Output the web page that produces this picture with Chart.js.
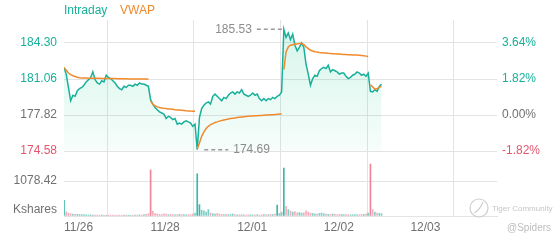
<!DOCTYPE html>
<html>
<head>
<meta charset="utf-8">
<script src="https://cdn.jsdelivr.net/npm/chart.js@4.4.1/dist/chart.umd.min.js"></script>
<style>
html, body { margin: 0; padding: 0; background: #fff; }
#wrap { width: 560px; height: 240px; }
</style>
</head>
<body>
<div id="wrap"><canvas id="c" width="560" height="240"></canvas></div>
<script>
// axis labels and where each trading day starts (minutes from first open, 10 min samples)
var dayLabels = ['11/26', '11/28', '12/01', '12/02', '12/03'];
var axisTicks = [0, 390, 780, 1170, 1560, 1950];
var dayStart = [0, 390, 600, 990, 1380];
var step = 10;

var prevClose = 177.82;
var priceTicks = [174.58, 177.82, 181.06, 184.30];
var volTick = 1078.42;

// intraday price, one list per day
var price1 = [182.1, 181.5, 180.3, 179.1, 179.6, 179.5, 180.0, 180.2, 180.3, 180.5, 180.8, 181.0, 181.2, 181.7, 181.0, 180.7, 180.6, 180.9, 180.8, 181.4,
  181.2, 181.1, 180.9, 180.7, 180.4, 180.2, 180.1, 180.4, 180.3, 180.5, 180.5, 180.4, 180.6, 180.5, 180.7, 180.6, 180.6, 180.5, 180.4];
var price2 = [179.2, 178.8, 178.5, 178.3, 178.1, 178.0, 177.9, 177.5, 177.7, 177.6, 177.4, 177.5, 177.0, 177.1, 177.0, 177.2, 177.3, 177.2, 177.1, 176.8, 177.0];
var price3 = [174.69, 177.6, 178.4, 178.7, 178.9, 179.0, 178.8, 179.5, 179.7, 179.5, 179.3, 179.1, 179.4, 179.3, 179.6, 179.8, 179.9, 179.7, 179.9, 179.8,
  180.1, 179.7, 179.6, 179.5, 179.6, 179.8, 179.6, 179.7, 179.3, 179.1, 179.3, 179.1, 179.3, 179.2, 179.4, 179.3, 179.5, 179.6, 179.9];
var price4 = [185.53, 184.8, 185.2, 184.6, 185.1, 184.1, 183.6, 183.9, 184.3, 183.9, 182.4, 181.5, 180.5, 181.1, 181.4, 181.3, 181.8, 182.0, 182.1, 182.0,
  182.3, 181.7, 181.9, 181.8, 181.7, 181.5, 181.6, 181.6, 181.3, 181.1, 181.2, 181.4, 181.5, 181.7, 181.6, 181.4, 181.5, 181.3, 181.6];
var price5 = [179.95, 179.9, 180.1, 179.95, 180.4, 180.6];

// VWAP per day
var vwap1 = [182.1, 181.85, 181.6, 181.45, 181.35, 181.28, 181.22, 181.18, 181.16, 181.15, 181.14, 181.13, 181.13, 181.13, 181.12, 181.12, 181.12, 181.11, 181.11, 181.11,
  181.11, 181.1, 181.1, 181.1, 181.09, 181.09, 181.08, 181.08, 181.08, 181.07, 181.07, 181.07, 181.06, 181.06, 181.06, 181.05, 181.05, 181.05, 181.04];
var vwap2 = [179.1, 178.8, 178.65, 178.55, 178.5, 178.45, 178.42, 178.4, 178.37, 178.35, 178.33, 178.3, 178.28, 178.26, 178.24, 178.22, 178.2, 178.19, 178.17, 178.16, 178.15];
var vwap3 = [174.75, 175.3, 175.9, 176.3, 176.6, 176.8, 176.95, 177.05, 177.15, 177.2, 177.27, 177.32, 177.37, 177.42, 177.46, 177.5, 177.53, 177.56, 177.59, 177.62,
  177.64, 177.66, 177.68, 177.7, 177.72, 177.73, 177.75, 177.76, 177.77, 177.78, 177.8, 177.81, 177.82, 177.84, 177.85, 177.87, 177.88, 177.9, 177.92];
var vwap4 = [181.9, 183.5, 183.95, 184.1, 184.15, 184.2, 184.22, 184.25, 184.25, 184.15, 183.95, 183.8, 183.65, 183.58, 183.52, 183.48, 183.45, 183.43, 183.41, 183.39,
  183.37, 183.36, 183.34, 183.33, 183.31, 183.3, 183.28, 183.27, 183.26, 183.25, 183.24, 183.23, 183.22, 183.21, 183.2, 183.18, 183.16, 183.12, 183.08];
var vwap5 = [180.55, 180.35, 180.15, 180.2, 180.3, 180.4];

// volume (thousand shares)
var vol1 = [480, 130, 90, 70, 60, 55, 50, 45, 40, 40, 35, 30, 35, 30, 25, 30, 25, 30, 25, 20, 25, 30, 25, 20, 25, 30, 20, 25, 30, 25, 20, 30, 25, 30, 35, 30, 40, 50, 70];
var vol2 = [1420, 150, 80, 60, 50, 45, 70, 60, 40, 50, 45, 35, 40, 50, 45, 40, 35, 40, 45, 60, 90];
var vol3 = [1300, 350, 180, 160, 120, 200, 90, 70, 60, 80, 60, 50, 45, 50, 40, 45, 60, 40, 35, 40, 35, 40, 30, 35, 40, 30, 35, 40, 30, 35, 40, 45, 35, 50, 45, 60, 340, 80, 120];
var vol4 = [1480, 300, 200, 150, 120, 140, 100, 110, 90, 100, 160, 120, 90, 80, 70, 60, 80, 90, 70, 60, 50, 45, 60, 50, 40, 45, 50, 40, 45, 40, 35, 40, 45, 35, 40, 45, 50, 60, 90];
var vol5 = [1600, 200, 120, 90, 80, 70];
var openUp = [true, false, true, true, false];

var teal = '#17b09a';
var orange = '#f08a2c';
var red = '#e4566f';
var grey = '#707070';
var gridCol = '#e3e3e3';
var font = '"Liberation Sans", Arial, sans-serif';

var prices = [price1, price2, price3, price4, price5];
var vwaps = [vwap1, vwap2, vwap3, vwap4, vwap5];
var vols = [vol1, vol2, vol3, vol4, vol5];

// gaps = true leaves a break between days (used for VWAP)
function series(days, gaps) {
  var out = [];
  days.forEach(function(a, d) {
    a.forEach(function(v, k) { out.push({x: dayStart[d] + k * step, y: v}); });
    if (gaps && d < days.length - 1) out.push({x: dayStart[d] + a.length * step - 5, y: null});
  });
  return out;
}

var volData = [], volColors = [];
vols.forEach(function(a, d) {
  a.forEach(function(v, k) {
    volData.push({x: dayStart[d] + k * step, y: v});
    var up = k == 0 ? openUp[d] : prices[d][k] >= prices[d][k - 1];
    var a1 = v > 300 ? 0.9 : 0.6;
    volColors.push(up ? 'rgba(38,176,160,' + a1 + ')' : 'rgba(236,120,142,' + a1 + ')');
  });
});

// highest and lowest sample, for the markers
var hi = null, lo = null;
prices.forEach(function(a, d) {
  a.forEach(function(v, k) {
    if (!hi || v > hi.y) hi = {x: dayStart[d] + k * step, y: v};
    if (!lo || v < lo.y) lo = {x: dayStart[d] + k * step, y: v};
  });
});

function tickColor(v) {
  if (Math.abs(v - prevClose) < 0.001) return grey;
  return v > prevClose ? teal : red;
}

var extras = {
  id: 'extras',
  afterDraw: function(chart) {
    var ctx = chart.ctx, sx = chart.scales.x, sy = chart.scales.y, sv = chart.scales.yv;
    ctx.save();
    ctx.font = '12px ' + font;
    ctx.textBaseline = 'middle';
    ctx.textAlign = 'left';
    ctx.fillStyle = teal;
    ctx.fillText('Intraday', 64, 11);
    ctx.fillStyle = orange;
    ctx.fillText('VWAP', 120, 11);

    // unit label of the volume panel
    ctx.textAlign = 'right';
    ctx.fillStyle = grey;
    ctx.fillText('Kshares', sv.left + sv.width - 7, sv.bottom - 6);

    ctx.strokeStyle = '#9a9a9a';
    ctx.fillStyle = '#8c8c8c';
    ctx.lineWidth = 1.5;
    ctx.setLineDash([4, 3]);
    var hx = sx.getPixelForValue(hi.x), hy = sy.getPixelForValue(hi.y);
    ctx.beginPath(); ctx.moveTo(hx - 27, hy); ctx.lineTo(hx, hy); ctx.stroke();
    var lx = sx.getPixelForValue(lo.x), ly = sy.getPixelForValue(lo.y);
    ctx.beginPath(); ctx.moveTo(lx + 7, ly); ctx.lineTo(lx + 31, ly); ctx.stroke();
    ctx.setLineDash([]);
    ctx.textAlign = 'right';
    ctx.fillText(hi.y.toFixed(2), hx - 32, hy);
    ctx.textAlign = 'left';
    ctx.fillText(lo.y.toFixed(2), lx + 36, ly);

    // watermark
    ctx.strokeStyle = '#cfcfcf';
    ctx.lineWidth = 1.2;
    ctx.beginPath(); ctx.arc(479, 208, 9, 0, Math.PI * 2); ctx.stroke();
    ctx.beginPath(); ctx.moveTo(474, 213); ctx.quadraticCurveTo(480, 210, 483, 202); ctx.stroke();
    ctx.fillStyle = '#c6c6c6';
    ctx.font = '8px ' + font;
    ctx.fillText('Tiger Community', 492, 209);
    ctx.font = '10px ' + font;
    ctx.fillStyle = '#bdbdbd';
    ctx.fillText('@Spiders', 507, 228);
    ctx.restore();
  }
};

new Chart(document.getElementById('c'), {
  type: 'line',
  data: {
    datasets: [{
      label: 'VWAP',
      data: series(vwaps, true),
      yAxisID: 'y',
      borderColor: orange,
      borderWidth: 1.5,
      pointRadius: 0,
      spanGaps: false,
      fill: false,
      order: 0
    }, {
      label: 'Intraday',
      data: series(prices, false),
      yAxisID: 'y',
      borderColor: teal,
      borderWidth: 1.5,
      pointRadius: 0,
      fill: 'start',
      backgroundColor: function(c) {
        var ch = c.chart, s = ch.scales.y;
        if (!s || !ch.chartArea) return 'rgba(30,190,150,0.1)';
        var g = ch.ctx.createLinearGradient(0, s.top, 0, s.bottom);
        g.addColorStop(0, 'rgba(40,205,150,0.2)');
        g.addColorStop(1, 'rgba(40,205,150,0.04)');
        return g;
      },
      order: 1
    }, {
      type: 'bar',
      label: 'Volume',
      data: volData,
      yAxisID: 'yv',
      backgroundColor: volColors,
      barThickness: 1,
      grouped: false,
      order: 2
    }]
  },
  options: {
    responsive: false,
    animation: false,
    devicePixelRatio: 1,
    layout: { padding: { top: 20, left: 0, right: 0, bottom: 0 } },
    plugins: { legend: { display: false }, tooltip: { enabled: false } },
    scales: {
      x: {
        type: 'linear',
        min: 0,
        max: 1950,
        offset: false,
        afterBuildTicks: function(s) { s.ticks = axisTicks.map(function(v) { return {value: v}; }); },
        afterFit: function(s) { s.height = 24; },
        grid: { color: gridCol, drawTicks: false },
        border: { color: gridCol },
        ticks: {
          align: 'start',
          padding: 4,
          color: grey,
          font: { family: font, size: 12 },
          maxRotation: 0,
          callback: function(v, i) { return dayLabels[i] || ''; }
        }
      },
      y: {
        position: 'left',
        stack: 'left',
        stackWeight: 131,
        weight: 2,
        min: 174.58,
        max: 186.37,
        afterBuildTicks: function(s) { s.ticks = priceTicks.map(function(v) { return {value: v}; }); },
        afterFit: function(s) { s.width = 64; },
        grid: { color: gridCol, drawTicks: false },
        border: { display: false },
        ticks: {
          padding: 7,
          font: { family: font, size: 12 },
          color: function(c) { return tickColor(c.tick.value); },
          callback: function(v) { return v.toFixed(2); }
        }
      },
      yv: {
        position: 'left',
        stack: 'left',
        stackWeight: 65,
        weight: 1,
        min: 0,
        max: 2003,
        afterBuildTicks: function(s) { s.ticks = [{value: 0}, {value: volTick}]; },
        afterFit: function(s) { s.width = 64; },
        grid: { color: gridCol, drawTicks: false },
        border: { display: false },
        ticks: {
          padding: 7,
          color: grey,
          font: { family: font, size: 12 },
          callback: function(v) { return v === 0 ? '' : v.toFixed(2); }
        }
      },
      yp: {
        position: 'right',
        min: 168.73,
        max: 186.37,
        afterBuildTicks: function(s) { s.ticks = priceTicks.map(function(v) { return {value: v}; }); },
        afterFit: function(s) { s.width = 63; },
        grid: { display: false, drawTicks: false },
        border: { display: false },
        ticks: {
          padding: 5,
          font: { family: font, size: 12 },
          color: function(c) { return tickColor(c.tick.value); },
          callback: function(v) { return ((v - prevClose) / prevClose * 100).toFixed(2) + '%'; }
        }
      }
    }
  },
  plugins: [extras]
});
</script>
</body>
</html>
